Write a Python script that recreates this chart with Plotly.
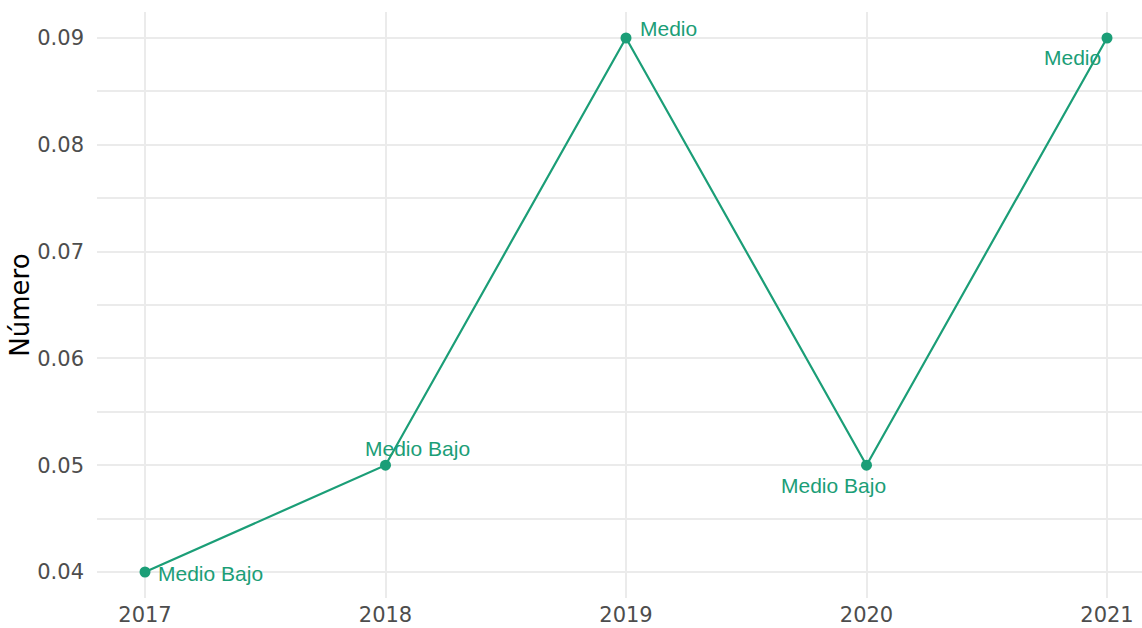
import plotly.graph_objects as go

years = [2017, 2018, 2019, 2020, 2021]
values = [0.04, 0.05, 0.09, 0.05, 0.09]
labels = ["Medio Bajo", "Medio Bajo", "Medio", "Medio Bajo", "Medio"]
y_ticks = [0.04, 0.05, 0.06, 0.07, 0.08, 0.09]
y_minor = [0.045, 0.055, 0.065, 0.075, 0.085]

color = "#1b9e77"

fig = go.Figure()
fig.add_trace(go.Scatter(
    x=years, y=values, mode="lines+markers",
    line=dict(color=color, width=2.2),
    marker=dict(color=color, size=11),
    showlegend=False, hoverinfo="skip",
))

# label offsets (ggrepel-like placement)
offsets = [
    dict(xanchor="left", xshift=11, yshift=-1),
    dict(xanchor="center", xshift=32, yshift=17),
    dict(xanchor="left", xshift=12, yshift=10),
    dict(xanchor="center", xshift=-33, yshift=-20),
    dict(xanchor="right", xshift=-4, yshift=-19),
]
for x, y, t, o in zip(years, values, labels, offsets):
    fig.add_annotation(x=x, y=y, text=t, showarrow=False, yanchor="middle",
                       font=dict(family="Liberation Sans, Arial, sans-serif", size=21, color=color),
                       **o)

fig.update_layout(
    width=1142, height=628,
    margin=dict(l=97, r=0, t=12, b=30),
    plot_bgcolor="white", paper_bgcolor="white",
    font=dict(family="DejaVu Sans, sans-serif", color="#4d4d4d"),
)
fig.update_xaxes(
    range=[2016.8004, 2021.1455], tickvals=years, ticktext=[str(y) for y in years],
    showgrid=True, gridcolor="#ebebeb", gridwidth=2, zeroline=False, showline=False,
    ticks="", tickfont=dict(size=21, color="#4d4d4d"), ticklabelstandoff=2,
)
fig.update_yaxes(
    range=[0.037566, 0.092434], tickvals=y_ticks, ticktext=[f"{v:.2f}" for v in y_ticks],
    showgrid=True, gridcolor="#ebebeb", gridwidth=2, zeroline=False, showline=False,
    ticks="", tickfont=dict(size=21, color="#4d4d4d"), ticklabelstandoff=12,
    minor=dict(tickvals=y_minor, showgrid=True, gridcolor="#ebebeb", gridwidth=1.5),
    title=dict(text="Número", font=dict(size=26, color="black"), standoff=0),
)

fig.write_html("out.html", config={"displayModeBar": False},
               post_script="document.body.style.margin='0';")
